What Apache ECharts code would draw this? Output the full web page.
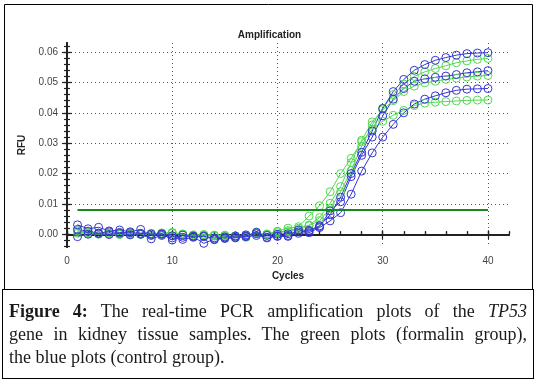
<!DOCTYPE html>
<html>
<head>
<meta charset="utf-8">
<script src="https://cdn.jsdelivr.net/npm/echarts@6/dist/echarts.min.js"></script>
<style>
  html, body { margin: 0; padding: 0; background: #fff; }
  #chart { position: absolute; left: 0; top: 0; width: 539px; height: 382px; }
  #cap {
    position: absolute; left: 2px; top: 289px; width: 532px; height: 90px;
    border: 1px solid #000; box-sizing: border-box;
    padding: 10px 6px 0 6px;
    font-family: "Liberation Serif", serif; font-size: 18px; line-height: 23px; color: #1a1a1a;
  }
  #cap .j { text-align: justify; text-align-last: justify; }
  #cap b { font-weight: 600; }
</style>
</head>
<body>
<div id="chart"></div>
<div id="cap">
  <div class="j"><b>Figure 4:</b> The real-time PCR amplification plots of the <i>TP53</i></div>
  <div class="j">gene in kidney tissue samples. The green plots (formalin group),</div>
  <div>the blue plots (control group).</div>
</div>
<script>
    // 循环数 1..40
    var cycles = [1, 2, 3, 4, 5, 6, 7, 8, 9, 10, 11, 12, 13, 14, 15, 16, 17, 18, 19, 20,
                  21, 22, 23, 24, 25, 26, 27, 28, 29, 30, 31, 32, 33, 34, 35, 36, 37, 38, 39, 40];

    /*对照组（蓝色）*/
    var blue1 = [0.0031, 0.0018, 0.0023, 0.0011, 0.0014, 0.0008, 0.0016, -0.0004, 0.0002, -0.0019,
                 -0.0003, -0.0008, -0.0030, -0.0016, -0.0012, -0.0010, -0.0006, 0.0007, -0.0012, -0.0007,
                 -0.0007, 0.0014, 0.0013, 0.0028, 0.0064, 0.0122, 0.0200, 0.0270, 0.0340, 0.0414,
                 0.0470, 0.0510, 0.0540, 0.0559, 0.0573, 0.0582, 0.0590, 0.0595, 0.0597, 0.0598];
    var blue2 = [0.0016, 0.0010, 0.0004, 0.0008, 0.0006, 0.0005, 0.0003, 0.0001, 0.0000, -0.0005,
                 -0.0010, -0.0006, -0.0008, -0.0012, -0.0009, -0.0006, -0.0002, 0.0002, -0.0004, 0.0000,
                 0.0002, 0.0008, 0.0010, 0.0025, 0.0077, 0.0107, 0.0190, 0.0260, 0.0320, 0.0390,
                 0.0445, 0.0480, 0.0504, 0.0512, 0.0517, 0.0521, 0.0526, 0.0532, 0.0535, 0.0539];
    var blue3 = [-0.0008, 0.0000, 0.0002, -0.0001, 0.0003, -0.0002, 0.0000, -0.0015, -0.0004, -0.0012,
                 -0.0017, -0.0010, -0.0006, -0.0018, -0.0014, -0.0012, -0.0008, -0.0004, -0.0010, -0.0006,
                 -0.0004, 0.0003, 0.0005, 0.0022, 0.0044, 0.0071, 0.0132, 0.0208, 0.0268, 0.0320,
                 0.0362, 0.0400, 0.0429, 0.0445, 0.0456, 0.0466, 0.0474, 0.0478, 0.0479, 0.0480];

    /*甲醛组（绿色）*/
    var green1 = [0.0012, 0.0006, 0.0003, 0.0004, 0.0000, 0.0002, -0.0001, 0.0003, 0.0002, 0.0005,
                  -0.0002, -0.0005, -0.0004, -0.0006, -0.0005, -0.0007, -0.0010, 0.0005, -0.0002, 0.0009,
                  0.0008, 0.0015, 0.0028, 0.0045, 0.0085, 0.0140, 0.0210, 0.0290, 0.0360, 0.0415,
                  0.0460, 0.0495, 0.0520, 0.0535, 0.0546, 0.0555, 0.0565, 0.0571, 0.0576, 0.0579];
    var green2 = [0.0003, 0.0005, 0.0002, 0.0001, -0.0001, 0.0000, 0.0002, 0.0000, -0.0001, 0.0003,
                  0.0001, -0.0004, -0.0002, -0.0003, -0.0007, -0.0005, -0.0004, 0.0002, -0.0001, 0.0005,
                  0.0012, 0.0020, 0.0030, 0.0055, 0.0102, 0.0157, 0.0236, 0.0310, 0.0370, 0.0410,
                  0.0440, 0.0470, 0.0488, 0.0499, 0.0504, 0.0510, 0.0514, 0.0518, 0.0521, 0.0523];
    var green3 = [0.0009, 0.0002, 0.0000, 0.0002, 0.0003, -0.0001, 0.0001, 0.0002, 0.0004, 0.0006,
                  0.0000, -0.0002, -0.0001, -0.0004, -0.0003, -0.0006, -0.0008, 0.0004, 0.0001, 0.0010,
                  0.0020, 0.0025, 0.0060, 0.0094, 0.0140, 0.0200, 0.0250, 0.0305, 0.0345, 0.0372,
                  0.0392, 0.0408, 0.0424, 0.0432, 0.0435, 0.0437, 0.0439, 0.0441, 0.0442, 0.0442];

    var threshold = 0.0080;        // 阈值线
    var thresholdCycles = [1, 40];

    var yLabels = [0, 0.01, 0.02, 0.03, 0.04, 0.05, 0.06];  // 刻度标签
    var xLabels = [0, 10, 20, 30, 40];
    var yMinor = [];
    for (var k = -2; k <= 31; k++) yMinor.push(+(k * 0.002).toFixed(3));
    var xMinor = [];
    for (var m = 0; m <= 21; m++) xMinor.push(m * 2);

    var blueColor = '#3434d0';
    var greenColor = '#52d852';
    var frameColor = '#222';

    function pairs(ys) {
        return cycles.map(function (c, i) { return [c, ys[i]]; });
    }

    function curve(name, ys, color) {
        return {
            name: name,
            type: 'line',
            xAxisIndex: 0,
            yAxisIndex: 0,
            data: pairs(ys),
            symbol: 'circle',
            symbolSize: 8,
            lineStyle: {width: 1, color: color},
            itemStyle: {color: 'rgba(255,255,255,0)', borderColor: color, borderWidth: 1},
            emphasis: {disabled: true},
            animation: false
        };
    }

    // 刻度轴（只画刻度，叠在同一位置上）
    function tickAxis(gridIndex, position, values, len, inside) {
        return {
            type: 'value', gridIndex: gridIndex, position: position,
            min: (position === 'left' || position === 'right') ? yMin : 0,
            max: (position === 'left' || position === 'right') ? yMax : 42,
            axisLine: {show: false},
            axisTick: {show: true, inside: inside, customValues: values, length: len,
                       lineStyle: {color: frameColor, width: 1.2}},
            axisLabel: {show: false},
            splitLine: {show: false}
        };
    }

    var gridRect = {left: 67, top: 43, width: 442, height: 204};
    var yMin = -0.0042, yMax = 0.063;

    var chart = echarts.init(document.getElementById('chart'));
    chart.setOption({
        animation: false,
        title: {
            text: 'Amplification',
            left: 'center',
            top: 25,
            textStyle: {fontFamily: 'Liberation Sans', fontSize: 10, fontWeight: 'bold', color: '#222'}
        },
        graphic: [{
            type: 'rect',
            shape: {x: 4.5, y: 4.5, width: 528, height: 285},
            style: {fill: null, stroke: '#000', lineWidth: 1},
            silent: true
        }],
        grid: [
            Object.assign({}, gridRect),
            Object.assign({}, gridRect)
        ],
        xAxis: [
            {   /*底部X轴*/
                type: 'value', gridIndex: 0, position: 'bottom',
                min: 0, max: 42,
                name: 'Cycles', nameLocation: 'middle', nameGap: 24,
                nameTextStyle: {fontFamily: 'Liberation Sans', fontSize: 10, fontWeight: 'bold', color: '#222'},
                axisLine: {lineStyle: {color: frameColor, width: 2}},
                axisTick: {customValues: xLabels, length: 5, lineStyle: {color: frameColor, width: 1.2}},
                axisLabel: {
                    customValues: xLabels,
                    fontFamily: 'Liberation Sans', fontSize: 10, color: '#444', margin: 9
                },
                splitLine: {show: true, lineStyle: {color: '#555', type: [1, 3], width: 1}}
            },
            {   /*顶部边框*/
                type: 'value', gridIndex: 0, position: 'top',
                min: 0, max: 42,
                axisLine: {lineStyle: {color: frameColor, width: 2}},
                axisTick: {customValues: xLabels, length: 4, lineStyle: {color: frameColor, width: 1.2}},
                axisLabel: {show: false},
                splitLine: {show: false}
            }
        ].concat([
            tickAxis(1, 'bottom', xMinor, 3, true),
            tickAxis(1, 'top', xMinor, 3, false)
        ]),
        yAxis: [
            {   /*左侧Y轴：标签+主刻度+网格线*/
                type: 'value', gridIndex: 0, position: 'left',
                min: yMin, max: yMax,
                name: 'RFU', nameLocation: 'middle', nameGap: 38, nameRotate: 90,
                nameTextStyle: {fontFamily: 'Liberation Sans', fontSize: 10, fontWeight: 'bold', color: '#222'},
                axisLine: {lineStyle: {color: frameColor, width: 2}},
                axisTick: {customValues: yLabels, length: 5, lineStyle: {color: frameColor, width: 1.2}},
                axisLabel: {
                    customValues: yLabels,
                    fontFamily: 'Liberation Sans', fontSize: 10, color: '#444', margin: 9,
                    formatter: function (v) { return v.toFixed(2); }
                },
                splitLine: {show: true, lineStyle: {color: '#555', type: [1, 3], width: 1}}
            },
            {   /*右侧边框*/
                type: 'value', gridIndex: 0, position: 'right',
                min: yMin, max: yMax,
                axisLine: {lineStyle: {color: frameColor, width: 2}},
                axisTick: {customValues: yLabels, length: 5, lineStyle: {color: frameColor, width: 1.2}},
                axisLabel: {show: false},
                splitLine: {show: false}
            }
        ].concat([
            tickAxis(1, 'left', yMinor, 3, false),
            tickAxis(1, 'right', yMinor, 3, false)
        ]),
        series: [
            curve('formalin 1', green1, greenColor),
            curve('formalin 2', green2, greenColor),
            curve('formalin 3', green3, greenColor),
            curve('control 1', blue1, blueColor),
            curve('control 2', blue2, blueColor),
            curve('control 3', blue3, blueColor),
            {
                name: 'threshold',
                type: 'line',
                xAxisIndex: 0,
                yAxisIndex: 0,
                data: thresholdCycles.map(function (c) { return [c, threshold]; }),
                symbol: 'none',
                lineStyle: {color: '#168a16', width: 2},
                silent: true,
                z: 5
            }
        ]
    });
</script>
</body>
</html>
